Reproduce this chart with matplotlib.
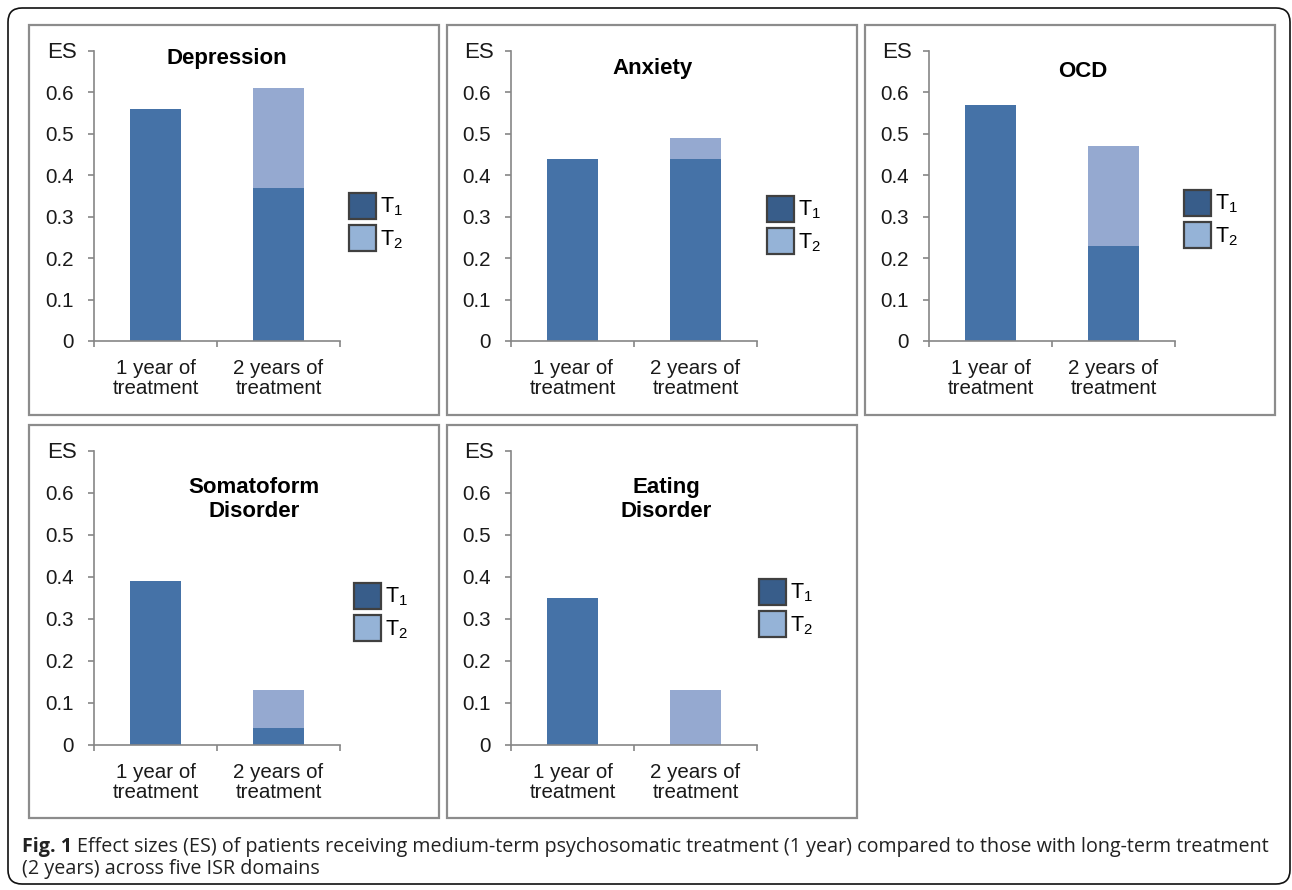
import numpy as np
import matplotlib
matplotlib.use('Agg')
import matplotlib.pyplot as plt
from matplotlib.patches import Rectangle, FancyBboxPatch, Patch
from matplotlib.transforms import IdentityTransform

plt.rcParams['font.family'] = ['Liberation Sans', 'DejaVu Sans']
plt.rcParams['mathtext.fontset'] = 'custom'
plt.rcParams['mathtext.rm'] = 'Liberation Sans'
plt.rcParams['mathtext.it'] = 'Liberation Sans:italic'

# data
categories = ['1 year of\ntreatment', '2 years of\ntreatment']
domains = ['Depression', 'Anxiety', 'OCD', 'Somatoform\nDisorder', 'Eating\nDisorder']
t1_values = [[0.56, 0.37], [0.44, 0.44], [0.57, 0.23], [0.39, 0.04], [0.35, 0.00]]
t2_values = [[0.00, 0.24], [0.00, 0.05], [0.00, 0.24], [0.00, 0.09], [0.00, 0.13]]
yticks = [0, 0.1, 0.2, 0.3, 0.4, 0.5, 0.6, 0.7]
ytick_labels = ['0', '0.1', '0.2', '0.3', '0.4', '0.5', '0.6', '']
caption_bold = 'Fig. 1'
caption_line1 = ('Effect sizes (ES) of patients receiving medium-term psychosomatic '
                 'treatment (1 year) compared to those with long-term treatment')
caption_line2 = '(2 years) across five ISR domains'

# layout (pixels)
W, H = 1292, 890
axis_x = [94, 511, 929, 94, 511]
axis_zero = [341, 341, 341, 745, 745]
axis_top = [51, 51, 51, 451, 451]
axis_w = 246
boxes = [(29, 25, 439, 415), (447, 25, 857, 415), (865, 25, 1275, 415),
         (29, 425, 439, 818), (447, 425, 857, 818)]
title_pos = [(0.54, 0.975), (0.575, 0.94), (0.625, 0.93), (0.65, 0.835), (0.63, 0.835)]
legend_pos = [(349, 222), (767, 225), (1184, 219), (354, 612), (759, 608)]

c_t1 = '#4572a7'
c_t2 = '#95a9d0'
leg_t1 = '#385d8a'
leg_t2 = '#95b3d7'
axis_col = '#868686'
text_col = '#1a1a1a'

fig = plt.figure(figsize=(W / 100, H / 100), dpi=100, facecolor='white')


def fx(x):
    return x / W


def fy(y):
    return 1 - y / H


# outer rounded frame
fig.add_artist(FancyBboxPatch((8, H - 884), 1282, 876,
                              boxstyle='round,pad=0,rounding_size=14',
                              transform=IdentityTransform(), fill=False,
                              ec='#111111', lw=1.2))

x = np.arange(len(categories))
for i, name in enumerate(domains):
    bx0, by0, bx1, by1 = boxes[i]
    fig.add_artist(Rectangle((fx(bx0), fy(by1)), fx(bx1 - bx0), (by1 - by0) / H,
                             transform=fig.transFigure, fill=False,
                             ec='#8c8c8c', lw=1.6))

    ax = fig.add_axes([fx(axis_x[i]), fy(axis_zero[i]), fx(axis_w),
                       (axis_zero[i] - axis_top[i]) / H])
    ax.bar(x, t1_values[i], width=0.41, color=c_t1, lw=0)
    ax.bar(x, t2_values[i], width=0.41, bottom=t1_values[i], color=c_t2, lw=0)

    ax.set_xlim(-0.5, 1.5)
    ax.set_ylim(0, 0.7)
    for s in ['top', 'right']:
        ax.spines[s].set_visible(False)
    for s in ['left', 'bottom']:
        ax.spines[s].set_color(axis_col)
        ax.spines[s].set_linewidth(1.2)

    ax.set_xticks(x)
    ax.set_xticklabels(categories, fontsize=14.8, color=text_col, linespacing=1.05)
    ax.set_xticks([-0.5, 0.5, 1.5], minor=True)
    ax.tick_params(axis='x', which='major', length=0, pad=13)
    ax.tick_params(axis='x', which='minor', length=4.5, width=1.2, color=axis_col)

    ax.set_yticks(yticks)
    ax.set_yticklabels(ytick_labels, fontsize=14.8, color=text_col)
    ax.tick_params(axis='y', length=4.5, width=1.2, color=axis_col, pad=10)

    ax.text(-0.07, 0.697, 'ES', transform=ax.get_yaxis_transform(),
            ha='right', va='center', fontsize=16, color=text_col)

    ax.text(title_pos[i][0], title_pos[i][1], name, transform=ax.transAxes,
            ha='center', va='center', fontsize=16, fontweight='bold',
            color='black', linespacing=1.15)

    handles = [Patch(facecolor=leg_t1, edgecolor='#404040', lw=1.6),
               Patch(facecolor=leg_t2, edgecolor='#404040', lw=1.6)]
    lx, ly = legend_pos[i]
    ax.legend(handles, [r'$\mathregular{T_1}$', r'$\mathregular{T_2}$'],
              loc='center left', bbox_to_anchor=(fx(lx), fy(ly)),
              bbox_transform=fig.transFigure, frameon=False, fontsize=15.5,
              handlelength=1.25, handleheight=1.5, handletextpad=0.2,
              labelspacing=0.3, borderpad=0, borderaxespad=0)

# caption
cap_font = ['Open Sans', 'DejaVu Sans']
renderer = fig.canvas.get_renderer()
size = 12.3
for _ in range(3):
    tb = fig.text(fx(22), fy(847), caption_bold, fontsize=size, fontweight='bold',
                  family=cap_font, va='center', color='#222222')
    bw = tb.get_window_extent(renderer).width
    tr = fig.text(fx(22 + bw + size * 0.35), fy(847), caption_line1, fontsize=size,
                  family=cap_font, va='center', color='#222222')
    total = tr.get_window_extent(renderer).x1 - fx(22) * W
    tb.remove()
    tr.remove()
    size = size * 1248 / total

tb = fig.text(fx(22), fy(847), caption_bold, fontsize=size, fontweight='bold',
              family=cap_font, va='center', color='#222222')
bw = tb.get_window_extent(renderer).width
fig.text(fx(22 + bw + size * 0.35), fy(847), caption_line1, fontsize=size,
         family=cap_font, va='center', color='#222222')
fig.text(fx(22), fy(869), caption_line2, fontsize=size,
         family=cap_font, va='center', color='#222222')

fig.savefig('out.png', dpi=100, facecolor='white')
